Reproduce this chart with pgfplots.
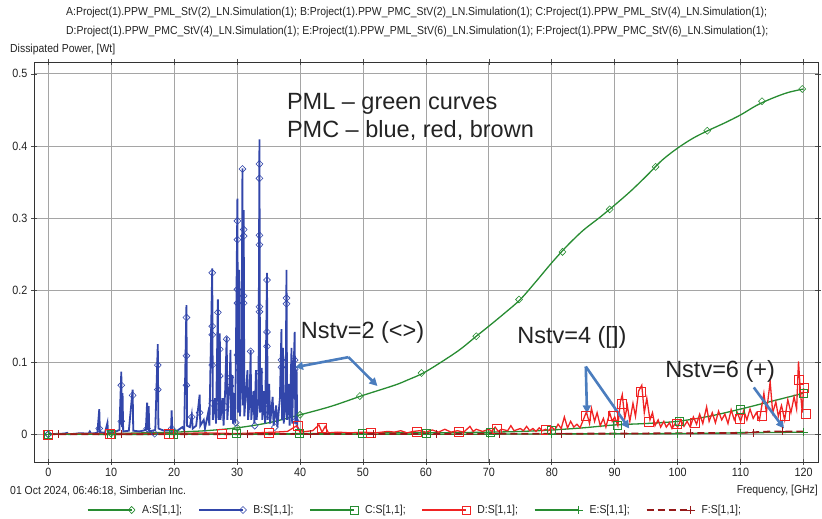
\documentclass[border=0pt]{standalone}
\usepackage{fontspec}
\setmainfont{Liberation Sans}
\newfontfamily\narrow[FakeStretch=0.9]{Liberation Sans}
\usepackage{pgfplots}
\pgfplotsset{compat=1.18}
\usetikzlibrary{arrows.meta}
\definecolor{cA}{RGB}{40,140,50}
\definecolor{cB}{RGB}{50,70,170}
\definecolor{cD}{RGB}{240,35,35}
\definecolor{cF}{RGB}{150,25,25}
\definecolor{arr}{RGB}{75,125,190}
\definecolor{gridc}{RGB}{165,165,165}
\definecolor{txt}{RGB}{35,35,35}
\begin{document}
\begin{tikzpicture}
\path[use as bounding box] (0,0) rectangle (822pt,519pt);
\node[anchor=west, inner sep=0pt, font=\narrow\fontsize{11.6}{13}\selectfont, text=txt] at (66pt,506pt) {A:Project(1).PPW\_PML\_StV(2)\_LN.Simulation(1); B:Project(1).PPW\_PMC\_StV(2)\_LN.Simulation(1); C:Project(1).PPW\_PML\_StV(4)\_LN.Simulation(1);};
\node[anchor=west, inner sep=0pt, font=\narrow\fontsize{11.6}{13}\selectfont, text=txt] at (66pt,487pt) {D:Project(1).PPW\_PMC\_StV(4)\_LN.Simulation(1); E:Project(1).PPW\_PML\_StV(6)\_LN.Simulation(1); F:Project(1).PPW\_PMC\_StV(6)\_LN.Simulation(1);};
\node[anchor=west, inner sep=0pt, font=\narrow\fontsize{11.6}{13}\selectfont, text=txt] at (10pt,469pt) {Dissipated Power, [Wt]};
\node[anchor=west, inner sep=0pt, font=\narrow\fontsize{11.6}{13}\selectfont, text=txt] at (10pt,28pt) {01 Oct 2024, 06:46:18, Simberian Inc.};
\node[anchor=east, inner sep=0pt, font=\narrow\fontsize{11.6}{13}\selectfont, text=txt] at (818pt,28pt) {Frequency, [GHz]};
\begin{axis}[
  at={(34pt,57pt)}, anchor=south west,
  width=784pt, height=400pt, scale only axis,
  xmin=-2.27, xmax=122.3, ymin=-0.0384, ymax=0.5164,
  xtick={0,10,20,30,40,50,60,70,80,90,100,110,120},
  ytick={0,0.1,0.2,0.3,0.4,0.5},
  grid=major, major grid style={gridc, line width=0.8pt},
  axis line style={black!80, line width=0.9pt},
  tick align=center, major tick length=6pt, tick style={black!70, line width=0.6pt},
  ticklabel style={font=\narrow\fontsize{12}{13}\selectfont, text=txt},
  /pgf/number format/assume math mode=true,
  yticklabel style={/pgf/number format/fixed, /pgf/number format/precision=1},
  legend image code/.code={\draw[mark repeat=2,mark phase=2,#1] plot coordinates {(0pt,0pt) (44pt,0pt)};},
  legend style={at={(0.486,-0.12)}, anchor=center, draw=none, fill=none, legend columns=6,
    font=\narrow\fontsize{11.6}{13}\selectfont, text=txt,
    /tikz/every odd column/.append style={column sep=5pt},
    /tikz/every even column/.append style={column sep=14pt}},
]
% ---- A: PML Nstv=2 (green, diamonds)
\addplot[cA, line width=1.3pt, smooth, forget plot] coordinates {
(0,0) (5,0.0005) (10,0.001) (15,0.002) (20,0.003) (25,0.005) (30,0.009) (35,0.016) (40,0.027) (45,0.039) (50,0.054) (55,0.068) (57,0.075) (60,0.087) (65,0.115) (68,0.136) (70,0.150) (72.5,0.168) (75,0.187) (77.5,0.212) (80,0.238) (82.5,0.262) (85,0.283) (87.5,0.300) (90,0.318) (92.5,0.337) (95,0.358) (97.5,0.380) (100,0.397) (102.5,0.411) (105,0.422) (107.5,0.432) (110,0.443) (112.5,0.456) (115,0.466) (117.5,0.474) (120,0.479)};
\addplot[cA, only marks, mark=diamond, mark size=3.5pt, mark options={xscale=1.3, line width=0.6pt}, forget plot] coordinates {
(0,0) (10,0.001) (20,0.003) (30,0.009) (40,0.027) (49.5,0.053) (59.3,0.085) (68,0.136) (74.8,0.187) (81.7,0.253) (89.2,0.312) (96.5,0.371) (104.7,0.421) (113.4,0.462) (119.8,0.479)};
% ---- B: PMC Nstv=2 (blue, diamonds)
\addplot[cB, line width=1.8pt, forget plot] coordinates {
(0,0) (1,0.0005) (2.5,0.001) (3,0.002) (3.2,0) (4.5,0.001) (5,0.0015) (6.4,0.001) (6.6,0.004) (6.8,0.001) (7.8,0.002) (8.1,0.035) (8.2,0.003) (9,0.002) (9.4,0.016) (9.5,0.002) (10.5,0.003) (11.3,0.006) (11.6,0.087) (11.7,0.01) (11.8,0.057) (11.9,0.004) (12.8,0.005) (13.4,0.062) (13.5,0.005) (14.5,0.004) (15.5,0.006) (15.7,0.044) (15.8,0.006) (15.95,0.039) (16.05,0.004) (17.0,0.006) (17.4,0.125) (17.5,0.008) (18.4,0.005) (19.5,0.006) (19.6,0.033) (19.7,0.006) (20.5,0.005) (21.3,0.01) (21.6,0.006) (21.95,0.179) (22.05,0.012) (22.5,0.01) (22.8,0.027) (22.95,0.008) (23.5,0.012) (24.05,0.055) (24.15,0.012) (24.7,0.02) (24.9,0.008) (25.4,0.03) (25.6,0.012) (26.05,0.230) (26.15,0.02) (26.5,0.05) (26.65,0.015) (26.95,0.187) (27.05,0.02) (27.25,0.14) (27.35,0.02) (27.7,0.05) (27.85,0.012) (28.1,0.06) (28.35,0.135) (28.45,0.02) (28.8,0.07) (28.95,0.117) (29.05,0.02) (29.25,0.082) (29.35,0.015) (29.6,0.057) (29.7,0.015) (30.05,0.327) (30.15,0.03) (30.35,0.228) (30.45,0.025) (30.7,0.08) (30.85,0.369) (30.95,0.04) (31.05,0.311) (31.15,0.025) (31.5,0.07) (31.65,0.089) (31.75,0.02) (32.0,0.05) (32.15,0.117) (32.25,0.02) (32.6,0.06) (32.75,0.015) (33.0,0.089) (33.1,0.02) (33.4,0.05) (33.55,0.409) (33.65,0.03) (33.9,0.092) (34.0,0.02) (34.3,0.06) (34.45,0.015) (34.75,0.224) (34.85,0.02) (35.1,0.07) (35.25,0.015) (35.65,0.052) (35.8,0.012) (36.2,0.04) (36.4,0.01) (36.8,0.05) (37.05,0.146) (37.15,0.02) (37.3,0.12) (37.4,0.015) (37.7,0.04) (37.85,0.228) (37.95,0.02) (38.2,0.07) (38.35,0.012) (38.65,0.12) (38.75,0.015) (39.15,0.142) (39.25,0.015) (39.45,0.09) (39.55,0.01) (40,0.005)};
\addplot[cB, only marks, mark=diamond, mark size=3.5pt, mark options={xscale=1.3, line width=0.6pt}, forget plot] coordinates {
(0,0) (8.1,0.008) (11.6,0.068) (11.6,0.018) (13.4,0.054) (15.7,0.008) (16.9,0.001) (17.4,0.096) (17.4,0.062) (19.6,0.008) (21.95,0.162) (21.95,0.109) (21.95,0.068) (22.8,0.024) (24.05,0.030) (26.05,0.224) (26.05,0.150) (26.05,0.138) (26.05,0.096) (26.05,0.043) (26.95,0.169) (27.25,0.118) (27.25,0.081) (26.95,0.038) (28.35,0.132) (28.2,0.038) (28.95,0.079) (28.95,0.067) (30.05,0.296) (30.05,0.270) (30.05,0.201) (30.05,0.182) (30.05,0.110) (30.85,0.368) (31.05,0.284) (31.05,0.275) (31.05,0.192) (31.05,0.182) (30.35,0.089) (32.15,0.115) (33.55,0.375) (33.55,0.355) (33.55,0.276) (33.55,0.263) (33.55,0.177) (33.55,0.170) (33.55,0.086) (34.75,0.214) (34.75,0.142) (34.75,0.122) (34.75,0.035) (37.05,0.103) (37.05,0.093) (37.85,0.189) (37.85,0.181) (39.15,0.103) (39.15,0.090) (29.8,0.016) (34.9,0.027) (39.3,0.019) (36.0,0.010) (32.8,0.012)};
% ---- C: PML Nstv=4 (green, squares)
\addplot[cA, line width=1.3pt, smooth, forget plot] coordinates {
(0,0) (20,0) (40,0.001) (50,0.002) (60,0.002) (70,0.003) (75,0.004) (80,0.006) (85,0.009) (90,0.013) (95,0.015) (100,0.018) (105,0.025) (110,0.035) (115,0.046) (120,0.057)};
\addplot[cA, only marks, mark=square, mark size=4pt, mark options={line width=0.6pt}, forget plot] coordinates {
(0,0) (10,0) (19.8,0) (29.8,0.001) (39.9,0.001) (49.9,0.002) (60,0.002) (70.3,0.003) (80,0.006) (90.4,0.013) (100.2,0.018) (110,0.035) (120,0.057)};
% ---- D: PMC Nstv=4 (red, squares)
\addplot[cD, line width=1.3pt, forget plot] coordinates {
(0,0) (5,0.001) (10,0.001) (15,0.001) (20,0.001) (25,0.002) (30,0.001) (33,0.002) (36,0.003) (38,0.004) (39.5,0.012) (40,0.003) (41,0.004) (42,0.005) (43,0.013) (43.5,0.003) (44,0.011) (44.5,0.002) (46,0.003) (48,0.002) (50,0.003) (52,0.002) (54,0.004) (55,0.003) (56,0.005) (57,0.002) (58,0.004) (59,0.005) (60,0.003) (61,0.006) (62,0.003) (63,0.007) (64,0.003) (65,0.005) (66,0.003) (67,0.011) (67.5,0.004) (68,0.007) (69,0.004) (70,0.007) (70.5,0.004) (71,0.01) (71.5,0.004) (72,0.007) (73,0.005) (73.5,0.012) (74,0.005) (75,0.008) (75.5,0.005) (76,0.011) (76.5,0.005) (77,0.008) (77.5,0.004) (78,0.009) (78.5,0.005) (79,0.007) (79.5,0.005) (80,0.01) (80.5,0.006) (81,0.014) (81.5,0.008) (82,0.024) (82.5,0.009) (83,0.018) (83.5,0.01) (84,0.014) (84.5,0.009) (85,0.02) (85.5,0.031) (86,0.015) (86.3,0.036) (86.8,0.018) (87.2,0.03) (87.7,0.012) (88.2,0.022) (88.6,0.01) (89.2,0.03) (89.6,0.018) (90,0.024) (90.5,0.012) (90.9,0.045) (91.2,0.055) (91.6,0.022) (92,0.04) (92.4,0.018) (92.9,0.043) (93.3,0.025) (93.8,0.06) (94.3,0.068) (94.7,0.03) (95.1,0.05) (95.6,0.02) (96,0.03) (96.4,0.012) (96.9,0.02) (97.3,0.01) (97.8,0.018) (98.2,0.01) (98.7,0.016) (99.1,0.008) (99.6,0.015) (100,0.01) (100.5,0.02) (101,0.011) (101.5,0.018) (102,0.01) (102.5,0.024) (103,0.014) (103.5,0.028) (104,0.015) (104.6,0.038) (105,0.018) (105.5,0.03) (106,0.016) (106.5,0.032) (107,0.02) (107.5,0.028) (108,0.015) (108.5,0.034) (109,0.02) (109.5,0.03) (110,0.018) (110.5,0.033) (111,0.02) (111.5,0.035) (112,0.022) (112.5,0.03) (113,0.02) (113.7,0.057) (114.1,0.03) (114.7,0.073) (115.1,0.03) (115.6,0.045) (116,0.025) (116.5,0.04) (117,0.02) (117.5,0.048) (118,0.03) (118.5,0.052) (118.9,0.035) (119.2,0.101) (119.5,0.06) (119.8,0.03) (120,0.064)};
\addplot[cD, only marks, mark=square, mark size=4.5pt, mark options={line width=0.6pt}, forget plot] coordinates {
(0,0) (9.7,0.001) (19.2,0.001) (27.5,0.001) (35.1,0.002) (39.7,0.012) (43.5,0.009) (51.3,0.002) (58.5,0.004) (65.2,0.004) (71.3,0.007) (79.1,0.006) (85.4,0.025) (89.7,0.025) (91.2,0.043) (94.1,0.059) (95.4,0.018) (99.9,0.015) (102.8,0.016) (109.9,0.022) (113.4,0.025) (117.1,0.025) (119.2,0.076) (120,0.064) (120.3,0.029)};
% ---- E: PML Nstv=6 (green, plus)
\addplot[cA, line width=1.3pt, forget plot] coordinates {
(0,0) (60,0) (80,0.0005) (100,0.001) (110,0.002) (120,0.003)};
\addplot[cA, only marks, mark=+, mark size=4pt, mark options={line width=0.8pt}, forget plot] coordinates {
(0,0) (10,0) (20,0) (30,0) (40,0) (50,0) (60,0) (70,0.0003) (80,0.0005) (90,0.0008) (100,0.001) (110,0.002) (120,0.003)};
% ---- F: PMC Nstv=6 (dark red dashed, plus)
\addplot[cF, line width=1.8pt, dash pattern=on 7pt off 4pt, forget plot] coordinates {
(0,0) (60,0.0005) (90,0.001) (110,0.002) (115,0.004) (120,0.004)};
\addplot[cF, only marks, mark=+, mark size=4pt, mark options={line width=0.8pt}, forget plot] coordinates {
(1.6,0) (11.6,0) (21.6,0) (31.6,0) (41.6,0) (51.6,0) (61.6,0.0005) (71.6,0.0007) (81.6,0.001) (91.6,0.001) (102,0.0015) (112,0.002) (116.6,0.004)};
% ---- legend
\addlegendimage{cA, line width=1.3pt, mark=diamond, mark size=3.5pt, mark options={xscale=1.3, line width=0.6pt}}
\addlegendentry{A:S[1,1];}
\addlegendimage{cB, line width=1.8pt, mark=diamond, mark size=3.5pt, mark options={xscale=1.3, line width=0.6pt}}
\addlegendentry{B:S[1,1];}
\addlegendimage{cA, line width=1.3pt, mark=square, mark size=4pt, mark options={line width=0.6pt}}
\addlegendentry{C:S[1,1];}
\addlegendimage{cD, line width=1.3pt, mark=square, mark size=4pt, mark options={line width=0.6pt}}
\addlegendentry{D:S[1,1];}
\addlegendimage{cA, line width=1.3pt, mark=+, mark size=4pt, mark options={line width=0.8pt}}
\addlegendentry{E:S[1,1];}
\addlegendimage{cF, line width=1.8pt, dash pattern=on 7pt off 4pt, mark=+, mark size=4pt, mark options={solid, line width=0.8pt}}
\addlegendentry{F:S[1,1];}
% ---- annotations
\node[anchor=west, inner sep=0pt, align=left, text=txt, font=\fontsize{23.5}{28}\selectfont] at (axis cs:37.9,0.44) {PML – green curves\\PMC – blue, red, brown};
\node[anchor=west, inner sep=0pt, text=txt, font=\fontsize{23.5}{28}\selectfont] at (axis cs:40.1,0.142) {Nstv=2 (\textless\textgreater)};
\node[anchor=west, inner sep=0pt, text=txt, font=\fontsize{23.5}{28}\selectfont] at (axis cs:74.5,0.134) {Nstv=4 ([])};
\node[anchor=west, inner sep=0pt, text=txt, font=\fontsize{23.5}{28}\selectfont] at (axis cs:98.0,0.087) {Nstv=6 (+)};
\draw[arr, line width=2.6pt, -{Triangle[length=8pt,width=8pt]}] (axis cs:47.7,0.107) -- (axis cs:39.2,0.093);
\draw[arr, line width=2.6pt, -{Triangle[length=8pt,width=8pt]}] (axis cs:47.7,0.107) -- (axis cs:52.3,0.067);
\draw[arr, line width=2.6pt, -{Triangle[length=8pt,width=8pt]}] (axis cs:85.4,0.094) -- (axis cs:85.6,0.029);
\draw[arr, line width=2.6pt, -{Triangle[length=8pt,width=8pt]}] (axis cs:85.4,0.094) -- (axis cs:92.3,0.008);
\draw[arr, line width=2.6pt, -{Triangle[length=8pt,width=8pt]}] (axis cs:112.1,0.065) -- (axis cs:116.9,0.008);
\end{axis}
\end{tikzpicture}
\end{document}
